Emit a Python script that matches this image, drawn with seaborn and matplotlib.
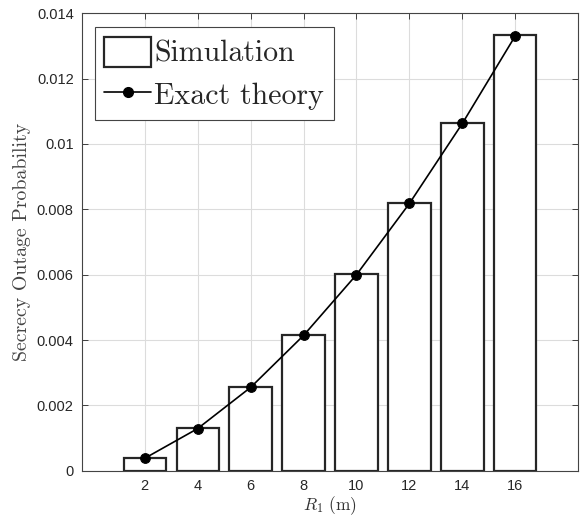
import numpy as np
import pandas as pd
import matplotlib
matplotlib.use('Agg')
import matplotlib.pyplot as plt
import seaborn as sns
from matplotlib.patches import Patch
from matplotlib.lines import Line2D

# Data
r1 = [2, 4, 6, 8, 10, 12, 14, 16]
sim_vals = [0.00040, 0.00130, 0.00257, 0.00416, 0.00601, 0.00820, 0.01064, 0.01333]
theory_vals = [0.00038, 0.00129, 0.00255, 0.00414, 0.00600, 0.00818, 0.01063, 0.01331]

df = pd.DataFrame({'R1': r1, 'sim': sim_vals, 'theory': theory_vals})

sns.set_style('ticks')
plt.rcParams['font.family'] = ['Liberation Sans', 'DejaVu Sans']
plt.rcParams['mathtext.fontset'] = 'cm'

fig = plt.figure(figsize=(5.8, 5.26), dpi=100)
ax = fig.add_axes([0.1414, 0.1051, 0.8552, 0.8696])

# bars (simulation)
sns.barplot(x='R1', y='sim', data=df, native_scale=True, width=0.8,
            color='white', edgecolor='#262626', linewidth=1.6, ax=ax, zorder=2)

# theory curve
sns.lineplot(x='R1', y='theory', data=df, color='black', linewidth=1.2,
             marker='o', markersize=7, markeredgecolor='black', ax=ax, zorder=3)

ax.set_xlim(-0.37, 18.37)
ax.set_ylim(0, 0.014)
ax.set_xticks(r1)
ax.set_xticklabels([str(v) for v in r1])
ax.set_yticks([0, 0.002, 0.004, 0.006, 0.008, 0.01, 0.012, 0.014])
ax.set_yticklabels(['0', '0.002', '0.004', '0.006', '0.008', '0.01', '0.012', '0.014'])
ax.tick_params(direction='in', top=True, right=True, labelsize=10.5,
               length=4, width=0.6, colors='#262626', pad=6)
ax.grid(True, color='#dcdcdc', linewidth=0.8)
ax.set_axisbelow(True)
for s in ax.spines.values():
    s.set_color('#444444')
    s.set_linewidth(0.8)
    s.set_visible(True)

ax.set_xlabel(r'$R_1\ \mathrm{(m)}$', fontsize=12.5, labelpad=1, color='#333333')
ax.set_ylabel('Secrecy Outage Probability', fontsize=14.3, family=['cmr10'],
              labelpad=4, color='#444444')

handles = [Patch(facecolor='white', edgecolor='#262626', linewidth=1.6),
           Line2D([0], [0], color='black', linewidth=1.2, marker='o', markersize=7)]
leg = ax.legend(handles, ['Simulation', 'Exact theory'], loc='upper left',
                bbox_to_anchor=(0.026, 0.969), prop={'family': 'cmr10', 'size': 21.5},
                frameon=True, fancybox=False, edgecolor='#444444', framealpha=1,
                handlelength=1.55, handleheight=1.15, handletextpad=0.12, borderpad=0.32,
                labelspacing=0.38, borderaxespad=0)
leg.get_frame().set_linewidth(0.8)

fig.savefig('out.png', dpi=100)
